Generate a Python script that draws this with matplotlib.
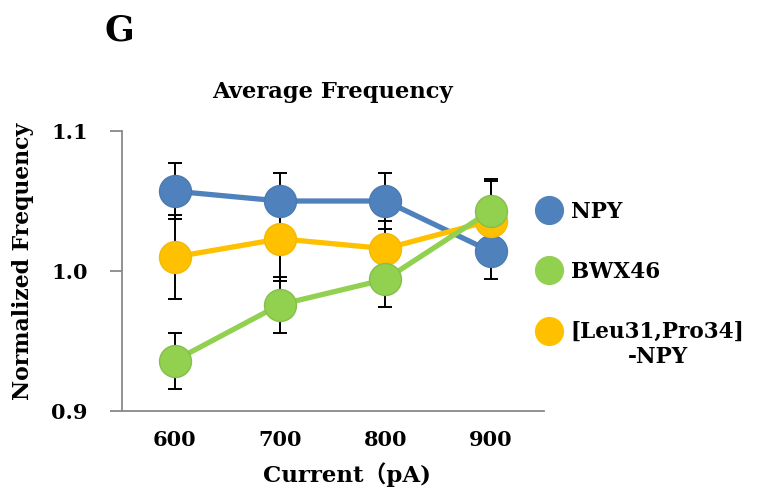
import matplotlib.pyplot as plt
from matplotlib.lines import Line2D
from matplotlib.legend_handler import HandlerLine2D

# data
currents = ['600', '700', '800', '900']
npy = [1.057, 1.050, 1.050, 1.014]
npy_err = [0.020, 0.020, 0.020, 0.020]
bwx = [0.936, 0.976, 0.994, 1.043]
bwx_err = [0.020, 0.020, 0.020, 0.023]
leu = [1.010, 1.023, 1.016, 1.036]
leu_err = [0.030, 0.030, 0.020, 0.028]
names = ['NPY', 'BWX46', '[Leu31,Pro34]\n-NPY']
colors = ['#4F81BD', '#92D050', '#FFC000']
edges = ['#4A7AB3', '#85BF4A', '#F5B900']


# legend marker sits next to the first line of a two-line label
class TopLineHandler(HandlerLine2D):
    def create_artists(self, legend, orig_handle, xdescent, ydescent,
                       width, height, fontsize, trans):
        return super().create_artists(legend, orig_handle, xdescent, ydescent - 20,
                                      width, height, fontsize, trans)


plt.rcParams['font.family'] = ['DejaVu Serif', 'Noto Sans CJK JP']

fig = plt.figure(figsize=(7.65, 4.97), dpi=100)
ax = fig.add_axes([0.1595, 0.173, 0.551, 0.5634])

x = list(range(len(currents)))
series = [(npy, npy_err, 0, 2), (leu, leu_err, 2, 3), (bwx, bwx_err, 1, 4)]
for vals, err, i, z in series:
    ax.errorbar(x, vals, yerr=err, fmt='none', ecolor='black', elinewidth=1.4,
                capsize=5, capthick=1.4, zorder=1)
    ax.plot(x, vals, color=colors[i], lw=3.8, marker='o', ms=23,
            markeredgecolor=edges[i], markeredgewidth=1, zorder=z)

ax.set_xlim(-0.5, 3.5)
ax.set_ylim(0.9, 1.1)
ax.set_yticks([0.9, 1.0, 1.1])
ax.set_yticklabels(['0.9', '1.0', '1.1'])
ax.set_xticks(x)
ax.set_xticklabels(currents)
for s in ['top', 'right']:
    ax.spines[s].set_visible(False)
for s in ['left', 'bottom']:
    ax.spines[s].set_color('#898989')
    ax.spines[s].set_linewidth(1.3)
ax.tick_params(axis='y', length=9, color='#898989', width=1.3, labelsize=15, pad=15.5)
ax.tick_params(axis='x', length=0, labelsize=15, pad=14)
for t in ax.get_xticklabels() + ax.get_yticklabels():
    t.set_fontweight('bold')

ax.set_xlabel('Current（pA)', fontsize=16.5, fontweight='bold')
ax.xaxis.set_label_coords(0.534, -0.183)
ax.set_ylabel('Normalized Frequency', fontsize=15.8, fontweight='bold')
ax.yaxis.set_label_coords(-0.209, 0.534)
ax.set_title('Average Frequency', fontsize=16.3, fontweight='bold', pad=24)
fig.text(0.137, 0.938, 'G', fontsize=25, fontweight='bold', ha='left', va='center')

handles = [Line2D([], [], ls='none', marker='o', ms=20, color=c) for c in colors]
leg = ax.legend(handles, names, loc='upper left', bbox_to_anchor=(0.957, 0.804),
                frameon=False, fontsize=15.5, handlelength=0.8, handletextpad=0.6,
                labelspacing=1.75, borderaxespad=0.3,
                handler_map={handles[2]: TopLineHandler()})
for t in leg.get_texts():
    t.set_fontweight('bold')
    t.set_multialignment('center')
    t.set_linespacing(1.2)

fig.savefig('out.png', dpi=100)
